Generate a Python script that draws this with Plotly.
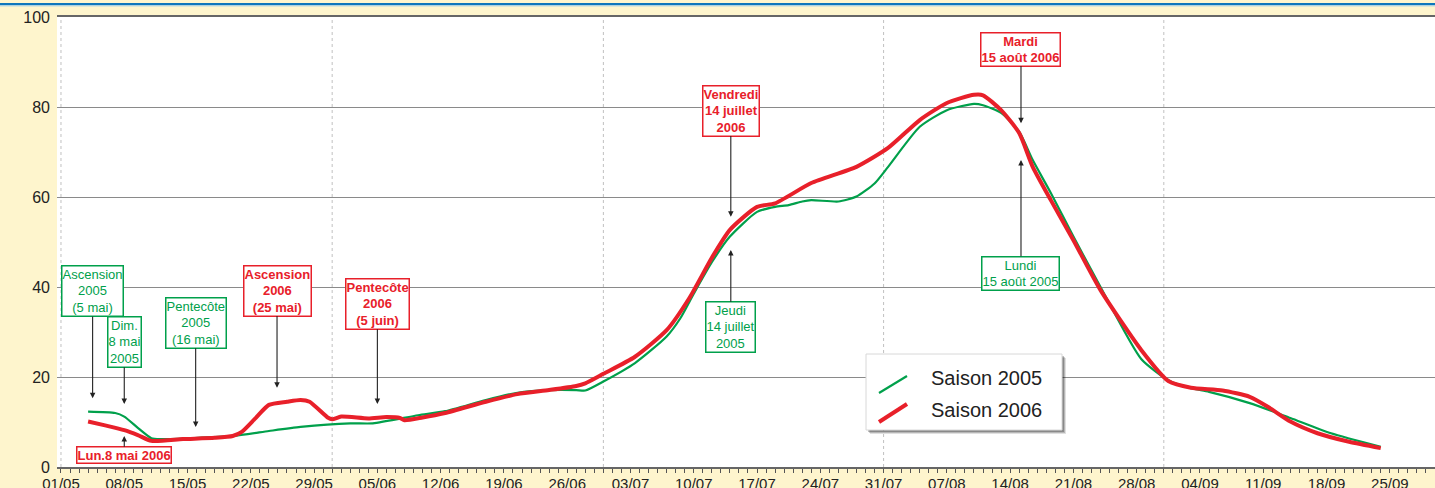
import plotly.graph_objects as go
from datetime import datetime, timedelta

# ---------------- data (day index from 1 May, value) ----------------
BASE = datetime(2006, 5, 1)

days_2006 = [3, 5, 7, 8.5, 10, 13.5, 17, 19, 20, 21.5, 23, 25, 26.5, 27.5, 29.5, 30, 31, 34, 36,
             37.5, 38, 40, 42.5, 47, 50.5, 54, 57, 58, 60, 63.5, 67, 69.5, 72, 74, 77, 79, 83, 88,
             91.5, 95, 98, 101, 102, 104, 106, 107.5, 109.5, 112, 115, 119.5, 122.5, 125, 128.5,
             131.5, 133.5, 136, 139, 142.5, 146]
vals_2006 = [10.1, 9.2, 8.2, 7.1, 5.8, 6.2, 6.5, 6.9, 7.8, 10.8, 13.8, 14.5, 14.9, 14.5, 11.0, 10.6,
             11.2, 10.8, 11.1, 10.9, 10.4, 11.0, 12.0, 14.5, 16.2, 17.1, 18.0, 18.6, 20.7, 24.5, 30.4,
             37.5, 46.5, 52.7, 57.8, 58.6, 63.1, 66.7, 70.9, 77.1, 80.9, 82.7, 82.6, 79.3, 74.2, 66.7,
             59.3, 50.4, 39.3, 26.0, 19.1, 17.6, 17.0, 15.6, 13.4, 10.1, 7.5, 5.6, 4.2]

days_2005 = [3, 6, 7, 8.5, 10, 11, 19, 23, 26.5, 32, 34.5, 39.5, 42.5, 47, 50.5, 54, 57, 58, 60,
             63.5, 67, 68.5, 70, 72, 74, 77, 79, 80.5, 82, 83, 86, 88, 90, 91.5, 95, 98, 101, 102,
             104, 106, 107.5, 109.5, 112, 115, 119.5, 122.5, 125, 127, 131.5, 136, 140.5, 146]
vals_2005 = [12.3, 12.0, 11.2, 8.7, 6.4, 6.2, 6.9, 8.0, 8.9, 9.7, 9.7, 11.5, 12.4, 14.9, 16.5, 17.1,
             17.1, 17.0, 19.0, 23.1, 29.0, 33.0, 38.5, 45.5, 51.2, 56.7, 57.8, 58.2, 59.0, 59.3, 59.0,
             60.1, 63.0, 66.7, 75.6, 79.3, 80.7, 80.4, 78.7, 74.5, 68.2, 60.9, 51.2, 40.0, 24.0, 19.3,
             17.5, 16.7, 14.2, 10.9, 7.5, 4.5]

series_names = ["Saison 2005", "Saison 2006"]
month_ends = ["2006-05-01", "2006-05-31", "2006-06-30", "2006-07-31", "2006-08-31"]
y_ticks = [0, 20, 40, 60, 80, 100]

# annotations: text, tip day, tip value, box offset (px), colour key
notes = [
    ("Ascension<br>2005<br>(5 mai)", 3.5, 15.3, -107, "g"),
    ("Dim.<br>8 mai<br>2005", 7.0, 14.0, -62, "g"),
    ("Pentecôte<br>2005<br>(16 mai)", 14.9, 8.9, -104, "g"),
    ("Ascension<br>2006<br>(25 mai)", 23.9, 17.6, -97, "r"),
    ("Pentecôte<br>2006<br>(5 juin)", 35.0, 14.0, -100, "r"),
    ("Lun.8 mai 2006", 7.0, 6.9, 19, "r"),
    ("Vendredi<br>14 juillet<br>2006", 74.1, 55.6, -106, "r"),
    ("Jeudi<br>14 juillet<br>2005", 74.1, 48.2, 77, "g"),
    ("Mardi<br>15 août 2006", 106.2, 76.4, -74, "r"),
    ("Lundi<br>15 août 2005", 106.2, 68.2, 113, "g"),
]

def d2s(d):
    return (BASE + timedelta(days=d)).strftime("%Y-%m-%d %H:%M")

GREEN = "#00A04B"
RED = "#E8202A"
W, H = 1435, 488
ML, MR, MT, MB = 57, 0, 17, 21
PW, PH = W - ML - MR, H - MT - MB

def px(x):
    return (x - ML) / PW

def py(y):
    return (H - MB - y) / PH

fig = go.Figure()
fig.add_trace(go.Scatter(x=[d2s(d) for d in days_2005], y=vals_2005, mode="lines",
                         line=dict(color=GREEN, width=2.2, shape="spline", smoothing=0.6),
                         name=series_names[0], showlegend=False))
fig.add_trace(go.Scatter(x=[d2s(d) for d in days_2006], y=vals_2006, mode="lines",
                         line=dict(color=RED, width=4, shape="spline", smoothing=0.6),
                         name=series_names[1], showlegend=False))

shapes = []
for m in month_ends:
    shapes.append(dict(type="line", xref="x", yref="paper", x0=m, x1=m, y0=0, y1=1,
                       line=dict(color="#C0C0C0", width=1, dash="dot"), layer="below"))
# top blue rule
shapes.append(dict(type="line", xref="paper", yref="paper", x0=-0.05, x1=1.01, y0=py(4), y1=py(4),
                   line=dict(color="#0E76BC", width=2.2)))
shapes.append(dict(type="line", xref="paper", yref="paper", x0=-0.05, x1=1.01, y0=py(5.8), y1=py(5.8),
                   line=dict(color="#8CC4E8", width=1)))
# legend box with shadow
lx0, lx1, ly0, ly1 = 866, 1062, 354, 430
for off, op in [(4, 0.12), (3, 0.18), (2, 0.25)]:
    shapes.append(dict(type="rect", xref="paper", yref="paper", x0=px(lx0 + off), x1=px(lx1 + off),
                       y0=py(ly1 + off), y1=py(ly0 + off), fillcolor="rgba(0,0,0,%s)" % op,
                       line=dict(width=0), layer="above"))
shapes.append(dict(type="rect", xref="paper", yref="paper", x0=px(lx0), x1=px(lx1), y0=py(ly1), y1=py(ly0),
                   fillcolor="white", line=dict(color="#D8D8D8", width=1), layer="above"))
shapes.append(dict(type="line", xref="paper", yref="paper", x0=px(879), y0=py(393), x1=px(907), y1=py(376),
                   line=dict(color=GREEN, width=2.2), layer="above"))
shapes.append(dict(type="line", xref="paper", yref="paper", x0=px(879), y0=py(422), x1=px(907), y1=py(404),
                   line=dict(color=RED, width=4), layer="above"))

annotations = []
for name, yy in zip(series_names, [378, 410]):
    annotations.append(dict(xref="paper", yref="paper", x=px(929), y=py(yy), text=name, showarrow=False,
                            xanchor="left", yanchor="middle",
                            font=dict(family="Liberation Sans, Arial", size=20, color="#222")))

NFONT = "Liberation Sans, Arial"
for text, d, v, ay, c in notes:
    col = GREEN if c == "g" else RED
    t = text if c == "g" else "<b>" + text + "</b>"
    annotations.append(dict(x=d2s(d), y=v, xref="x", yref="y", text=t, showarrow=True,
                            ax=0, ay=ay, arrowhead=2, arrowsize=1, arrowwidth=1.1, arrowcolor="#222",
                            font=dict(family=NFONT, size=13, color=col),
                            bgcolor="white", bordercolor=col, borderwidth=1.5, borderpad=0,
                            align="center"))

fig.update_layout(
    width=W, height=H,
    margin=dict(l=ML, r=MR, t=MT, b=MB, autoexpand=False),
    paper_bgcolor="#FEF5CD", plot_bgcolor="white",
    shapes=shapes, annotations=annotations,
    showlegend=False,
    xaxis=dict(type="date", range=[d2s(-0.44), d2s(152)], automargin=False,
               tick0="2006-05-01", dtick=7 * 86400000, tickformat="%d/%m",
               ticks="outside", ticklen=4, tickcolor="#555", tickwidth=1,
               minor=dict(dtick=86400000, ticks="outside", ticklen=4, tickcolor="#555", tickwidth=1),
               showgrid=False, showline=True, linecolor="#666", linewidth=2, mirror=True,
               tickfont=dict(family="Liberation Sans, Arial", size=15, color="#222"),
               ticklabelstandoff=-2,
               zeroline=False, fixedrange=True),
    yaxis=dict(range=[0, 100], tickvals=y_ticks, showgrid=True, gridcolor="#8A8A8A", gridwidth=1.2,
               zeroline=False, showline=False, ticks="", automargin=False,
               tickfont=dict(family="Liberation Sans, Arial", size=16, color="#222"),
               ticklabelstandoff=6, fixedrange=True),
)

fig.write_html("out.html", config={"displayModeBar": False},
               post_script="document.body.style.margin='0';document.body.style.overflow='hidden';"
                           "document.body.style.background='#FEF5CD';")
